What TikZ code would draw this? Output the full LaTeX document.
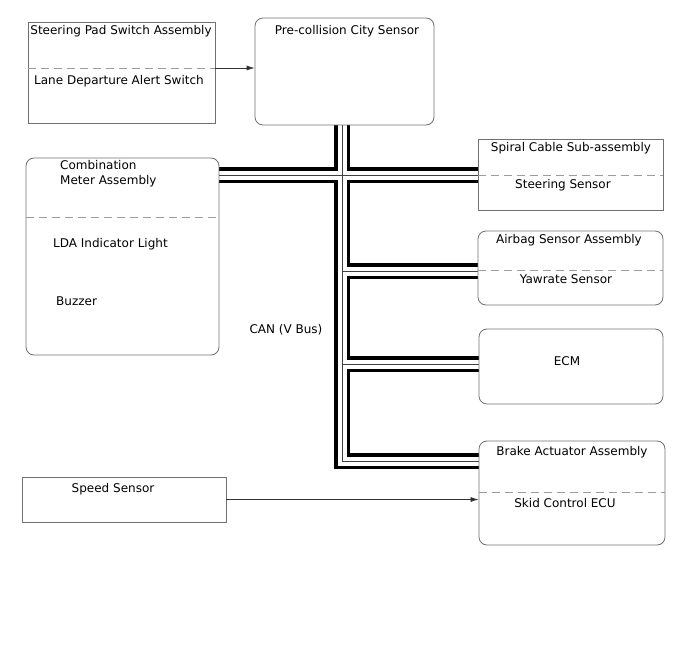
\documentclass[tikz,border=0pt]{standalone}
\usepackage{fontspec}
\setmainfont{DejaVu Sans}
\usepackage{tikz}
\usetikzlibrary{arrows.meta,positioning,backgrounds,calc}
\definecolor{frame}{HTML}{707070}
\definecolor{sepline}{HTML}{9C9C9C}

\begin{document}
\begin{tikzpicture}[
        x=1pt, y=-1pt,
        box/.style={rectangle, draw=frame, line width=0.8pt, inner sep=0pt},
        rbox/.style={box, rounded corners=8pt},
        lbl/.style={inner sep=0pt, text height=10pt, text depth=0pt,
                    font=\fontsize{12}{15}\selectfont},
        sep/.style={draw=sepline, line width=0.8pt, dash pattern=on 8pt off 5pt},
        arrow/.style={-{Latex[length=8pt,width=5pt]}, line width=0.7pt, black!80}
    ]
        \useasboundingbox (0,0) rectangle (688,658);

        % units
        \node[box, minimum width=187pt, minimum height=101pt] (sw) at (121.5,72.5) {};
        \node[rbox, minimum width=179pt, minimum height=107pt] (pcs) at (344.5,71.5) {};
        \node[rbox, minimum width=193pt, minimum height=197pt] (meter) at (122.5,256.5) {};
        \node[box, minimum width=185pt, minimum height=71pt] (spiral) at (570.5,174.5) {};
        \node[rbox, minimum width=185pt, minimum height=74pt] (airbag) at (570.5,268) {};
        \node[rbox, minimum width=184pt, minimum height=75pt] (ecm) at (571,366.5) {};
        \node[rbox, minimum width=186pt, minimum height=104pt] (brake) at (572,493) {};
        \node[box, minimum width=204pt, minimum height=45pt] (speed) at (124,499.5) {};

        % sub-parts
        \coordinate (swdash) at (0,68);
        \coordinate (meterdash) at (0,217);
        \coordinate (spiraldash) at (0,175);
        \coordinate (airbagdash) at (0,270);
        \coordinate (brakedash) at (0,492);
        \draw[sep] (sw.west |- swdash) -- (sw.east |- swdash);
        \draw[sep] (meter.west |- meterdash) -- (meter.east |- meterdash);
        \draw[sep] (spiral.west |- spiraldash) -- (spiral.east |- spiraldash);
        \draw[sep] (airbag.west |- airbagdash) -- (airbag.east |- airbagdash);
        \draw[sep] (brake.west |- brakedash) -- (brake.east |- brakedash);

        % labels
        \node[lbl] (swT) at (121,30) {Steering Pad Switch Assembly};
        \node[lbl] (lda) at (119,80) {Lane Departure Alert Switch};
        \node[lbl] (pcsT) at (347,30) {Pre-collision City Sensor};
        \node[lbl, anchor=west, align=left, text height=, text depth=] (meterT) at (60,173.5) {Combination\\Meter Assembly};
        \node[lbl, anchor=west] (ldaLight) at (53,242) {LDA Indicator Light};
        \node[lbl, anchor=west] (buzz) at (56,300) {Buzzer};
        \node[lbl] (spiralT) at (571,147) {Spiral Cable Sub-assembly};
        \node[lbl] (steer) at (563,183) {Steering Sensor};
        \node[lbl] (airbagT) at (569,238) {Airbag Sensor Assembly};
        \node[lbl] (yaw) at (566,278) {Yawrate Sensor};
        \node[lbl] (ecmT) at (567,360) {ECM};
        \node[lbl] (brakeT) at (572,450) {Brake Actuator Assembly};
        \node[lbl] (skid) at (565,502) {Skid Control ECU};
        \node[lbl] (speedT) at (113,487) {Speed Sensor};
        \node[lbl] (can) at (286,328) {CAN (V Bus)};

        % direct lines
        \draw[arrow] (sw.east |- swdash) -- (pcs.west |- swdash);
        \draw[arrow] (speed.east) -- (brake.west |- speed.east);

        % CAN bus: outer pair, gap, centre wire
        \coordinate (jA) at (342,175);
        \coordinate (jB) at (342,271);
        \coordinate (jC) at (342,364);
        \coordinate (jD) at (342,461);
        \begin{scope}[on background layer]
            \foreach \lw/\lc in {16/black, 9/white, 0.9/black!75} {
                \draw[line width=\lw pt, \lc] (pcs.south -| jA) -- (jD) -- (brake.west |- jD);
                \draw[line width=\lw pt, \lc] (meter.east |- jA) -- (spiral.west |- jA);
                \draw[line width=\lw pt, \lc] (jB) -- (airbag.west |- jB);
                \draw[line width=\lw pt, \lc] (jC) -- (ecm.west |- jC);
            }
        \end{scope}
    \end{tikzpicture}
\end{document}
